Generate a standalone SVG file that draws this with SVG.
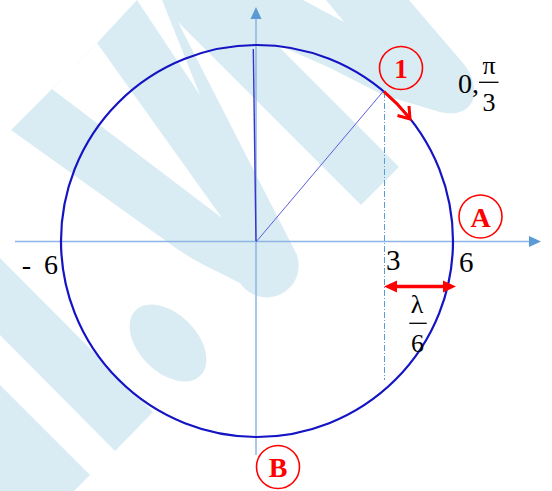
<svg xmlns="http://www.w3.org/2000/svg" width="552" height="491" viewBox="0 0 552 491">
<style>
.wm{fill:#daecf3}
.wh{fill:#ffffff}
.axis{stroke:#8db4e2;stroke-width:1.5;fill:none}
.ahead{fill:#5b9bd5}
.t{font-family:"Liberation Serif","Times New Roman",serif;fill:#000000}
.lbl{font-family:"Liberation Serif","Times New Roman",serif;font-weight:bold;fill:#ff0000;text-anchor:middle}
.ring{fill:none;stroke:#ff0000;stroke-width:1.6}
.red{stroke:#ff0000;fill:none}
</style>
<rect width="552" height="491" fill="#ffffff"/>
<g id="watermark">
<path class="wm" d="M11,130 L52,89 L97,43 L137,0 L409,0 L463,63 C474,76 478,95 470,105 C462,115 450,114 440,112 L383,95 L330,68 L276,44 L399,167 L361,205 L178,22 L297,255 A32,32 0 0 1 240,283 C215,270 195,262 173,246 Z"/>
<polygon class="wh" points="52,89 97,43 222,218"/>
<polygon class="wh" points="137,0 162,0 200,95"/>
<polygon class="wh" points="303,0 326,0 344,22"/>
<polygon class="wm" points="0,258 153,412 115,451 0,335"/>
<polygon class="wm" points="0,385 90,475 74,491 0,491"/>
<ellipse class="wm" cx="168" cy="343" rx="46" ry="29" transform="rotate(45 168 343)"/>
</g>
<g id="axes">
<line class="axis" x1="15" y1="241.5" x2="530" y2="241.5"/>
<polygon class="ahead" points="541,241.5 529,236 529,247"/>
<line class="axis" x1="256" y1="455" x2="256" y2="18"/>
<polygon class="ahead" points="256,7 250.5,19 261.5,19"/>
</g>
<g id="circle">
<circle cx="257" cy="241" r="196" fill="none" stroke="#1414c4" stroke-width="2.2"/>
</g>
<g id="connectors">
<line x1="256" y1="241" x2="253.3" y2="49" stroke="#3535cc" stroke-width="1.4"/>
<line x1="256" y1="242" x2="383.5" y2="91" stroke="#5c5cdc" stroke-width="1"/>
<line x1="384.5" y1="92" x2="384.5" y2="380" stroke="#5b9bd5" stroke-width="1" stroke-dasharray="6 2 1 2"/>
<path class="red" d="M384,91.7 A196,196 0 0 1 409.5,118" stroke-width="3"/>
<polyline class="red" points="409,106 410,119 397.5,115.5" stroke-width="3"/>
<line x1="394" y1="286.5" x2="446" y2="286.5" stroke="#ff0000" stroke-width="3.5"/>
<polygon points="384,286.5 397,280.5 397,292.5" fill="#ff0000"/>
<polygon points="456,286.5 443,280.5 443,292.5" fill="#ff0000"/>
</g>
<g id="node-1">
<circle class="ring" cx="401" cy="68" r="21.5"/>
<text class="lbl" x="401" y="78" font-size="27">1</text>
</g>
<g id="node-A">
<circle class="ring" cx="480.5" cy="216.5" r="21.5"/>
<text class="lbl" x="480.5" y="227" font-size="28">A</text>
</g>
<g id="node-B">
<circle class="ring" cx="278" cy="467" r="21.5"/>
<text class="lbl" x="278" y="477" font-size="28">B</text>
</g>
<g id="label-phase">
<text class="t" x="458" y="92.5" font-size="28">0,</text>
<text class="t" x="489" y="73.5" font-size="26" text-anchor="middle">π</text>
<line x1="479" y1="82.3" x2="498.5" y2="82.3" stroke="#000000" stroke-width="1.3"/>
<text class="t" x="489" y="110.5" font-size="26" text-anchor="middle">3</text>
</g>
<g id="label-ticks">
<text class="t" x="58" y="274" font-size="28" text-anchor="end" word-spacing="6">- 6</text>
<text class="t" x="386" y="270" font-size="29">3</text>
<text class="t" x="459" y="271.5" font-size="29">6</text>
</g>
<g id="label-lambda">
<text class="t" x="417" y="313" font-size="26" text-anchor="middle">λ</text>
<line x1="409.3" y1="323.3" x2="426.7" y2="323.3" stroke="#000000" stroke-width="1.3"/>
<text class="t" x="417.5" y="351.5" font-size="26" text-anchor="middle">6</text>
</g>
</svg>
